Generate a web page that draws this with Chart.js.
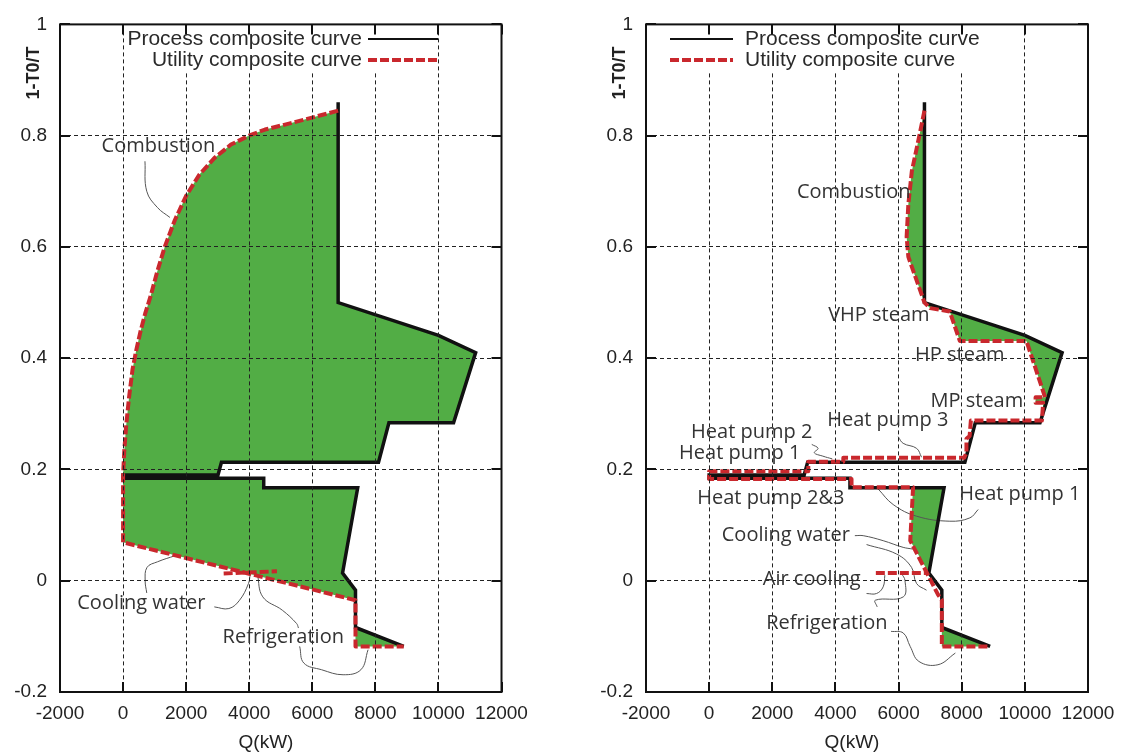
<!DOCTYPE html>
<html>
<head>
<meta charset="utf-8">
<script src="https://cdn.jsdelivr.net/npm/chart.js@4/dist/chart.umd.min.js"></script>
<style>
  html, body { margin: 0; padding: 0; background: #fff; }
  #wrap { position: relative; width: 1125px; height: 756px; }
  canvas { position: absolute; top: 0; }
  #left { left: 0; }
  #right { left: 586px; }
</style>
</head>
<body>
<div id="wrap">
  <canvas id="left" width="560" height="756"></canvas>
  <canvas id="right" width="539" height="756"></canvas>
</div>
<script>
// axis ticks
const qTicks = [-2000, 0, 2000, 4000, 6000, 8000, 10000, 12000];
const tTicks = [-0.2, 0, 0.2, 0.4, 0.6, 0.8, 1];

// process composite curve, same in both panels
const procQ = [6820, 6820, 10000, 11180, 10480, 8430, 8100, 3120, 3010, 0, 0, 4460, 4460, 7440, 6960, 7370, 7370, 8900];
const procT = [0.86, 0.50, 0.441, 0.41, 0.284, 0.284, 0.213, 0.213, 0.19, 0.19, 0.184, 0.184, 0.167, 0.167, 0.014, -0.017, -0.084, -0.118];

// left panel: utility composite curve (combustion, cooling water, refrigeration)
const utilQ_L = [6820, 5960, 5000, 4500, 4030, 3420, 2900, 2420, 2000, 1640, 1320, 1080, 870, 700, 560, 420, 300, 190, 100, 40, 0,
  0, 7370, 7370, 8900];
const utilT_L = [0.845, 0.832, 0.818, 0.811, 0.801, 0.784, 0.760, 0.730, 0.692, 0.648, 0.600, 0.555, 0.511, 0.480, 0.450, 0.415, 0.380, 0.330, 0.280, 0.235, 0.190,
  0.069, -0.035, -0.118, -0.118];
// small refrigeration condenser piece
const condQ_L = [3190, 4880];
const condT_L = [0.013, 0.017];

// right panel: utility composite curve
const utilQ_R = [6820, 6640, 6420, 6310, 6255, 6310, 6820, 7000, 7620, 7940, 10050, 10640, 10340, 10340, 10580, 10540,
  8290, 8250, 8150, 8150, 8080, 4250, 4250, 3140, 3140, 0, 0, 4510, 4510, 6460, 6370, 7250, 7370, 7370, 8900];
const utilT_R = [0.845, 0.795, 0.736, 0.677, 0.618, 0.582, 0.50, 0.49, 0.484, 0.431, 0.431, 0.33, 0.33, 0.32, 0.32, 0.288,
  0.288, 0.26, 0.255, 0.23, 0.221, 0.221, 0.214, 0.214, 0.197, 0.197, 0.183, 0.183, 0.168, 0.168, 0.072, -0.025, -0.035, -0.118, -0.118];
// air cooling piece
const airQ_R = [5280, 6900];
const airT_R = [0.014, 0.014];

// labels [text, Q, 1-T0/T]
const labels_L = [
  ['Combustion', 1120, 0.780],
  ['Cooling water', 580, -0.040],
  ['Refrigeration', 5080, -0.101]
];
const labels_R = [
  ['Combustion', 4580, 0.698],
  ['VHP steam', 5375, 0.478],
  ['HP steam', 7940, 0.405],
  ['MP steam', 8480, 0.323],
  ['Heat pump 3', 5660, 0.289],
  ['Heat pump 2', 1350, 0.267],
  ['Heat pump 1', 970, 0.229],
  ['Heat pump 2&3', 1955, 0.148],
  ['Heat pump 1', 9840, 0.155],
  ['Cooling water', 2430, 0.081],
  ['Air cooling', 3250, 0.003],
  ['Refrigeration', 3730, -0.076]
];

// leader lines [Q, 1-T0/T]
const leaders_L = [
  [[694, 0.754], [751, 0.700], [1087, 0.671], [1486, 0.653]],
  [[751, -0.022], [700, 0.0], [760, 0.024], [1090, 0.034], [1650, 0.045]],
  [[2893, -0.047], [3355, -0.050], [3694, -0.035], [3976, -0.005], [4033, 0.013]],
  [[4259, 0.012], [4430, -0.029], [5051, -0.053], [5504, -0.077], [5561, -0.085]],
  [[5600, -0.118], [5732, -0.148], [6296, -0.160], [6977, -0.169], [7541, -0.160], [7769, -0.124]]
];
const leaders_R = [
  [[3250, 0.245], [3450, 0.238], [3330, 0.230], [3600, 0.224], [3900, 0.219]],
  [[5987, 0.259], [6145, 0.247], [6570, 0.238], [6728, 0.222]],
  [[5353, 0.165], [5828, 0.137], [6570, 0.116], [7624, 0.107], [8258, 0.113], [8521, 0.128]],
  [[4615, 0.081], [4879, 0.081], [5512, 0.072], [6145, 0.060], [6450, 0.057]],
  [[4986, 0.065], [5936, 0.048], [6411, 0.024], [6570, -0.005], [6886, -0.017]],
  [[4986, -0.023], [5302, -0.023], [5512, -0.011], [5565, 0.010]],
  [[5322, -0.047], [5265, -0.035], [6149, -0.029], [6203, 0.0005], [6092, 0.013]],
  [[5762, -0.091], [6149, -0.094], [6367, -0.118], [6643, -0.145], [7247, -0.151], [7799, -0.130]]
];

const green = '#52ad45';
const red = '#c9282d';

function range(a, b) {
  const r = [];
  if (a <= b) for (let i = a; i <= b; i++) r.push(i);
  else for (let i = a; i >= b; i--) r.push(i);
  return r;
}
function pts(qs, ts, idx) {
  return idx.map(i => ({ x: qs[i], y: ts[i] }));
}
function lineSet(data, style) {
  return Object.assign({ data, showLine: true, pointRadius: 0, pointHoverRadius: 0, fill: false, tension: 0 }, style);
}

const utilStyle = { borderColor: red, borderWidth: 4, borderDash: [9, 3], borderCapStyle: 'butt', borderJoinStyle: 'round' };
const procStyle = { borderColor: '#111', borderWidth: 3.5, borderJoinStyle: 'miter' };
const leadStyle = { borderColor: '#555', borderWidth: 1, tension: 0.4 };
const fillStyle = { borderWidth: 0, borderColor: 'rgba(0,0,0,0)', backgroundColor: green, fill: 'shape' };

const procAll = pts(procQ, procT, range(0, procQ.length - 1));
const nL = utilQ_L.length;

// left panel datasets
const setsL = [
  lineSet(pts(utilQ_L, utilT_L, range(0, nL - 1)), utilStyle),
  lineSet(pts(condQ_L, condT_L, [0, 1]), utilStyle),
  lineSet(procAll, procStyle),
  ...leaders_L.map(l => lineSet(l.map(p => ({ x: p[0], y: p[1] })), leadStyle)),
  lineSet(pts(utilQ_L, utilT_L, range(0, nL - 5)).concat(pts(procQ, procT, range(9, 1))), fillStyle),
  lineSet(pts(procQ, procT, range(10, 15)).concat(pts(utilQ_L, utilT_L, [nL - 3, nL - 4])), fillStyle),
  lineSet(pts(procQ, procT, [16, 17]).concat(pts(utilQ_L, utilT_L, [nL - 1, nL - 2])), fillStyle)
];

// right panel datasets
const setsR = [
  lineSet(pts(utilQ_R, utilT_R, range(0, utilQ_R.length - 1)), utilStyle),
  lineSet(pts(airQ_R, airT_R, [0, 1]), utilStyle),
  lineSet(procAll, procStyle),
  ...leaders_R.map(l => lineSet(l.map(p => ({ x: p[0], y: p[1] })), leadStyle)),
  lineSet(pts(utilQ_R, utilT_R, range(0, 6)), fillStyle),
  lineSet(pts(procQ, procT, range(1, 4)).concat(pts(utilQ_R, utilT_R, range(15, 6))), fillStyle),
  lineSet(pts(procQ, procT, [13, 14]).concat(pts(utilQ_R, utilT_R, [30, 29])), fillStyle),
  lineSet(pts(procQ, procT, [16, 17]).concat(pts(utilQ_R, utilT_R, [34, 33])), fillStyle)
];

const axisFont = '19px "Liberation Sans", Arial, sans-serif';

const deco = {
  id: 'deco',
  afterDraw(chart, args, o) {
    const { ctx, chartArea: a, scales: { x, y } } = chart;
    ctx.save();

    // legend
    const lg = o.legend;
    ctx.fillStyle = '#fff';
    ctx.fillRect(lg.box[0], lg.box[1], lg.box[2], lg.box[3]);
    ctx.font = '21px "Liberation Sans", Arial, sans-serif';
    ctx.fillStyle = '#2a2a2a';
    ctx.textBaseline = 'middle';
    ctx.textAlign = lg.align;
    ctx.fillText('Process composite curve', lg.textX, lg.rows[0]);
    ctx.fillText('Utility composite curve', lg.textX, lg.rows[1]);
    ctx.strokeStyle = '#111';
    ctx.lineWidth = 2;
    ctx.beginPath();
    ctx.moveTo(lg.line[0], lg.rows[0]);
    ctx.lineTo(lg.line[1], lg.rows[0]);
    ctx.stroke();
    ctx.strokeStyle = red;
    ctx.lineWidth = 4;
    ctx.setLineDash([9, 3]);
    ctx.beginPath();
    ctx.moveTo(lg.line[0], lg.rows[1]);
    ctx.lineTo(lg.line[1], lg.rows[1]);
    ctx.stroke();
    ctx.setLineDash([]);

    // curve labels
    ctx.font = '20px "Open Sans", "Noto Sans", sans-serif';
    ctx.fillStyle = '#333';
    ctx.textAlign = 'center';
    o.labels.forEach(([t, q, v]) => {
      ctx.fillText(t, x.getPixelForValue(q), y.getPixelForValue(v));
    });

    // axis titles
    ctx.font = axisFont;
    ctx.fillStyle = '#222';
    ctx.fillText('Q(kW)', 266, 743);
    ctx.save();
    ctx.translate(a.left - 26, 73);
    ctx.rotate(-Math.PI / 2);
    ctx.font = 'bold 18px "Liberation Sans", Arial, sans-serif';
    ctx.fillText('1-T0/T', 0, 0);
    ctx.restore();

    // frame and inward ticks
    ctx.strokeStyle = '#111';
    ctx.lineWidth = 2;
    ctx.strokeRect(a.left, a.top, a.right - a.left, a.bottom - a.top);
    ctx.beginPath();
    qTicks.forEach(v => {
      const px = Math.round(x.getPixelForValue(v));
      ctx.moveTo(px, a.bottom); ctx.lineTo(px, a.bottom - 10);
      ctx.moveTo(px, a.top); ctx.lineTo(px, a.top + 10);
    });
    tTicks.forEach(v => {
      const py = Math.round(y.getPixelForValue(v));
      ctx.moveTo(a.left, py); ctx.lineTo(a.left + 10, py);
      ctx.moveTo(a.right, py); ctx.lineTo(a.right - 10, py);
    });
    ctx.stroke();
    ctx.restore();
  }
};

function makePanel(id, datasets, padRight, opts) {
  return new Chart(document.getElementById(id), {
    type: 'scatter',
    data: { datasets },
    options: {
      responsive: false,
      animation: false,
      events: [],
      layout: { padding: { left: 0, right: padRight, top: 18, bottom: 0 } },
      plugins: { legend: { display: false }, tooltip: { enabled: false }, deco: opts },
      scales: {
        x: {
          type: 'linear', min: -2000, max: 12000,
          afterBuildTicks: s => { s.ticks = qTicks.map(v => ({ value: v })); },
          afterFit: s => { s.height = 64; },
          grid: { color: '#222', lineWidth: 1, drawTicks: false, z: 1 },
          border: { display: false, dash: [4, 3] },
          ticks: { padding: 10, maxRotation: 0, autoSkip: false, color: '#222', font: { family: '"Liberation Sans", Arial, sans-serif', size: 19 }, callback: v => String(v) }
        },
        y: {
          type: 'linear', min: -0.2, max: 1,
          afterBuildTicks: s => { s.ticks = tTicks.map(v => ({ value: v })); },
          afterFit: s => { s.width = 60; },
          grid: { color: '#222', lineWidth: 1, drawTicks: false, z: 1 },
          border: { display: false, dash: [4, 3] },
          ticks: { padding: 13, color: '#222', font: { family: '"Liberation Sans", Arial, sans-serif', size: 19 }, callback: v => String(+v.toFixed(1)) }
        }
      }
    },
    plugins: [deco]
  });
}

makePanel('left', setsL, 58.5, {
  labels: labels_L,
  legend: { box: [126, 29, 310, 43], align: 'right', textX: 362, rows: [39, 60], line: [368, 438] }
});
makePanel('right', setsR, 37, {
  labels: labels_R,
  legend: { box: [76, 29, 325, 43], align: 'left', textX: 159, rows: [39, 60], line: [84, 147] }
});
</script>
</body>
</html>
